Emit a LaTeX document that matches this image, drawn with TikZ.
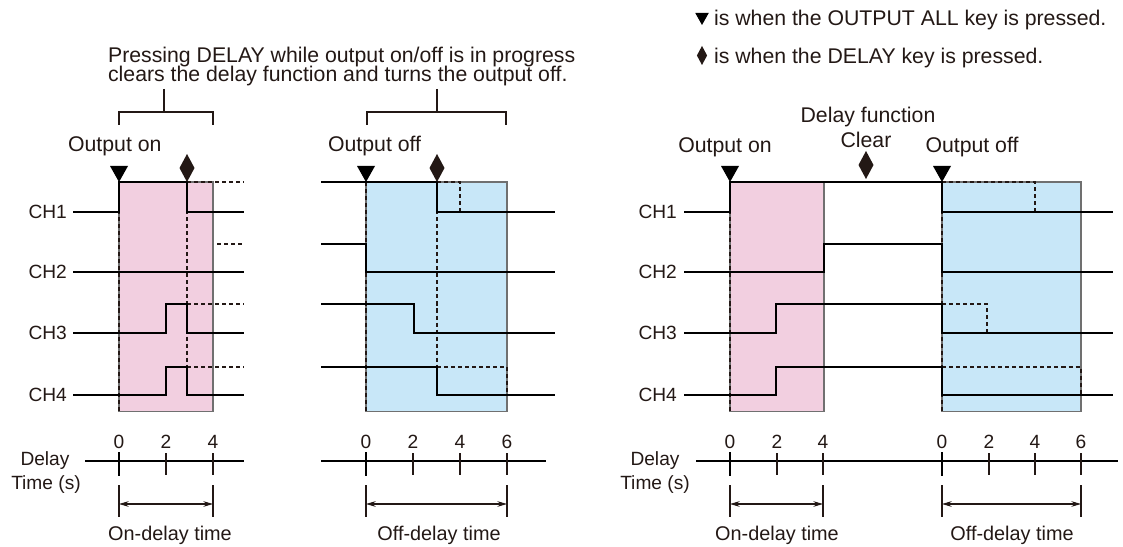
\documentclass[tikz,border=0pt]{standalone}
\usepackage{fontspec}
\setmainfont{Liberation Sans}
\usetikzlibrary{arrows.meta}
\definecolor{ink}     {HTML}{231815}
\definecolor{onpink}  {HTML}{F2CFE0}
\definecolor{offblue} {HTML}{C8E7F8}
\definecolor{edgegray}{HTML}{707070}
\tikzset{
  >={Stealth[length=5.5pt,width=3.2pt]},
  every node/.style={inner sep=1pt, text=ink},
  % --- nodes
  big/.style   = {font=\fontsize{12.1}{13}\selectfont},
  mid/.style   = {font=\fontsize{11.3}{13}\selectfont},
  small/.style = {font=\fontsize{10.9}{13}\selectfont},
  chlbl/.style = {small, anchor=east},
  num/.style   = {small, anchor=base},
  % --- lines
  wave/.style  = {line width=1.1pt, draw=black},
  guide/.style = {line width=0.7pt, draw=ink, dash pattern=on 2.3pt off 1.7pt},
  thin/.style  = {line width=0.6pt, draw=ink},
  axis/.style  = {line width=1.2pt, draw=black},
  span/.style  = {thin, <->},
  onbox/.style = {fill=onpink, draw=edgegray, line width=0.6pt},
  offbox/.style= {fill=offblue, draw=edgegray, line width=0.6pt},
  allkey/.pic  = {\fill[black] (-9,-16) -- (9,-16) -- (0,0) -- cycle;},
  delkey/.pic  = {\fill[ink] (0,-28) -- (7.5,-14) -- (0,0) -- (-7.5,-14) -- cycle;},
}
\begin{document}
\begin{tikzpicture}[x=0.02cm, y=-0.02cm]
  \useasboundingbox (0,0) rectangle (1123,547);

  % legend
  \pic[scale=0.75] at (702,25) {allkey};
  \pic[scale=0.68] at (702,65) {delkey};
  \node[big, anchor=base west] (keyall) at (712,26) {is when the OUTPUT ALL key is pressed.};
  \node[big, anchor=base west] (keydel) at (712,64) {is when the DELAY key is pressed.};

  % note with its two brackets
  \node[big, anchor=base west] (noteA) at (106,63) {Pressing DELAY while output on/off is in progress};
  \node[big, anchor=base west] (noteB) at (106,82) {clears the delay function and turns the output off.};
  \coordinate (stemA) at (164,89);
  \coordinate (stemB) at (437,89);
  \draw[thin] (119,125) -- (119,112) -- (213,112) -- (213,125);
  \draw[thin] (367,125) -- (367,112) -- (506,112) -- (506,125);
  \draw[thin] (stemA) -- (164,112);
  \draw[thin] (stemB) -- (437,112);

  % ---------- panel A: delay cleared during on-delay
  \draw[onbox] (119,182) rectangle (213,411.5);
  \draw[guide] (119,182) -- (119,411.5);
  \draw[guide] (187,182) -- (187,395);
  \draw[guide] (187,182) -- (244,182);
  \draw[guide] (217,244) -- (244,244);
  \draw[guide] (187,304) -- (244,304);
  \draw[guide] (187,367) -- (244,367);
  \draw[wave] (73,212) -- (119,212) -- (119,182) -- (187,182) -- (187,212) -- (244,212);
  \draw[wave] (73,272) -- (244,272);
  \draw[wave] (73,333) -- (166,333) -- (166,304) -- (187,304) -- (187,333) -- (244,333);
  \draw[wave] (73,395) -- (166,395) -- (166,367) -- (187,367) -- (187,395) -- (244,395);
  \foreach \y/\n in {212/1,272/2,333/3,395/4}
    \node[chlbl] (chA\n) at (69,\y) {CH\n};
  \pic at (119,182) {allkey};
  \pic at (187,182) {delkey};
  \node[big, anchor=base west] (onA) at (66,152) {Output on};

  % ---------- panel B: delay cleared during off-delay
  \draw[offbox] (366,182) rectangle (507,411.5);
  \draw[guide] (366,182) -- (366,411.5);
  \draw[guide] (437,182) -- (437,395);
  \draw[guide] (437,182) -- (460,182) -- (460,212);
  \draw[guide] (437,367) -- (507,367) -- (507,395);
  \draw[wave] (321,182) -- (437,182) -- (437,212) -- (555,212);
  \draw[wave] (321,244) -- (366,244) -- (366,272) -- (555,272);
  \draw[wave] (321,304) -- (414,304) -- (414,333) -- (555,333);
  \draw[wave] (321,367) -- (437,367) -- (437,395) -- (555,395);
  \pic at (366,182) {allkey};
  \pic at (437,182) {delkey};
  \node[big, anchor=base west] (offB) at (326,152) {Output off};

  % ---------- panel C: delay cleared between on and off
  \draw[onbox] (730,182) rectangle (824,411.5);
  \draw[offbox] (942,182) rectangle (1081,411.5);
  \draw[guide] (730,182) -- (730,411.5);
  \draw[guide] (942,182) -- (942,411.5);
  \draw[guide] (942,182) -- (1035,182) -- (1035,212);
  \draw[guide] (942,304) -- (987,304) -- (987,333);
  \draw[guide] (942,367) -- (1081,367) -- (1081,395);
  \draw[wave] (684,212) -- (730,212) -- (730,182) -- (942,182) -- (942,212) -- (1113,212);
  \draw[wave] (684,272) -- (824,272) -- (824,244) -- (942,244) -- (942,272) -- (1113,272);
  \draw[wave] (684,333) -- (776,333) -- (776,304) -- (942,304) -- (942,333) -- (1113,333);
  \draw[wave] (684,395) -- (776,395) -- (776,367) -- (942,367) -- (942,395) -- (1113,395);
  \foreach \y/\n in {212/1,272/2,333/3,395/4}
    \node[chlbl] (chC\n) at (679,\y) {CH\n};
  \pic at (730,182) {allkey};
  \pic at (942,182) {allkey};
  \pic at (866,179) {delkey};
  \node[big, anchor=base] (onC) at (725,153) {Output on};
  \node[big, anchor=base] (offC) at (972,153) {Output off};
  \node[big, anchor=base] (fnC) at (868,123) {Delay function};
  \node[big, anchor=base] (clrC) at (866,148) {Clear};

  % ---------- time axes
  \node[small, anchor=base] (dlyA) at (45,465) {Delay};
  \node[small, anchor=base] (tmA) at (46,489) {Time (s)};
  \node[small, anchor=base] (dlyC) at (655,465) {Delay};
  \node[small, anchor=base] (tmC) at (655,489) {Time (s)};
  \draw[axis] (85,461) -- (244,461);
  \draw[axis] (321,461) -- (546,461);
  \draw[axis] (696,461) -- (1118,461);
  \foreach \t/\x in {0/119,2/166,4/213}{
    \draw[thin] (\x,453) -- (\x,475);
    \node[num] (tA\t) at (\x,448) {\t};
  }
  \foreach \t/\x in {0/366,2/413,4/460,6/507}{
    \draw[thin] (\x,453) -- (\x,475);
    \node[num] (tB\t) at (\x,448) {\t};
  }
  \foreach \t/\x in {0/730,2/777,4/823}{
    \draw[thin] (\x,453) -- (\x,475);
    \node[num] (tC\t) at (\x,448) {\t};
  }
  \foreach \t/\x in {0/942,2/989,4/1035,6/1081}{
    \draw[thin] (\x,453) -- (\x,475);
    \node[num] (tD\t) at (\x,448) {\t};
  }
  \foreach \x in {119,366,730,942}
    \draw[axis] (\x,452) -- (\x,476);

  % ---------- delay spans
  \foreach \n/\a/\b in {A/119/213,B/366/507,C/730/823,D/942/1081}{
    \coordinate (\n l) at (\a,504);
    \coordinate (\n r) at (\b,504);
    \draw[thin] (\a,485) -- (\a,517);
    \draw[thin] (\b,485) -- (\b,517);
    \draw[span] (\n l) -- (\n r);
  }
  \node[mid, anchor=base] (spanA) at (170,540) {On-delay time};
  \node[mid, anchor=base] (spanB) at (439,540) {Off-delay time};
  \node[mid, anchor=base] (spanC) at (777,540) {On-delay time};
  \node[mid, anchor=base] (spanD) at (1012,540) {Off-delay time};
\end{tikzpicture}
\end{document}
